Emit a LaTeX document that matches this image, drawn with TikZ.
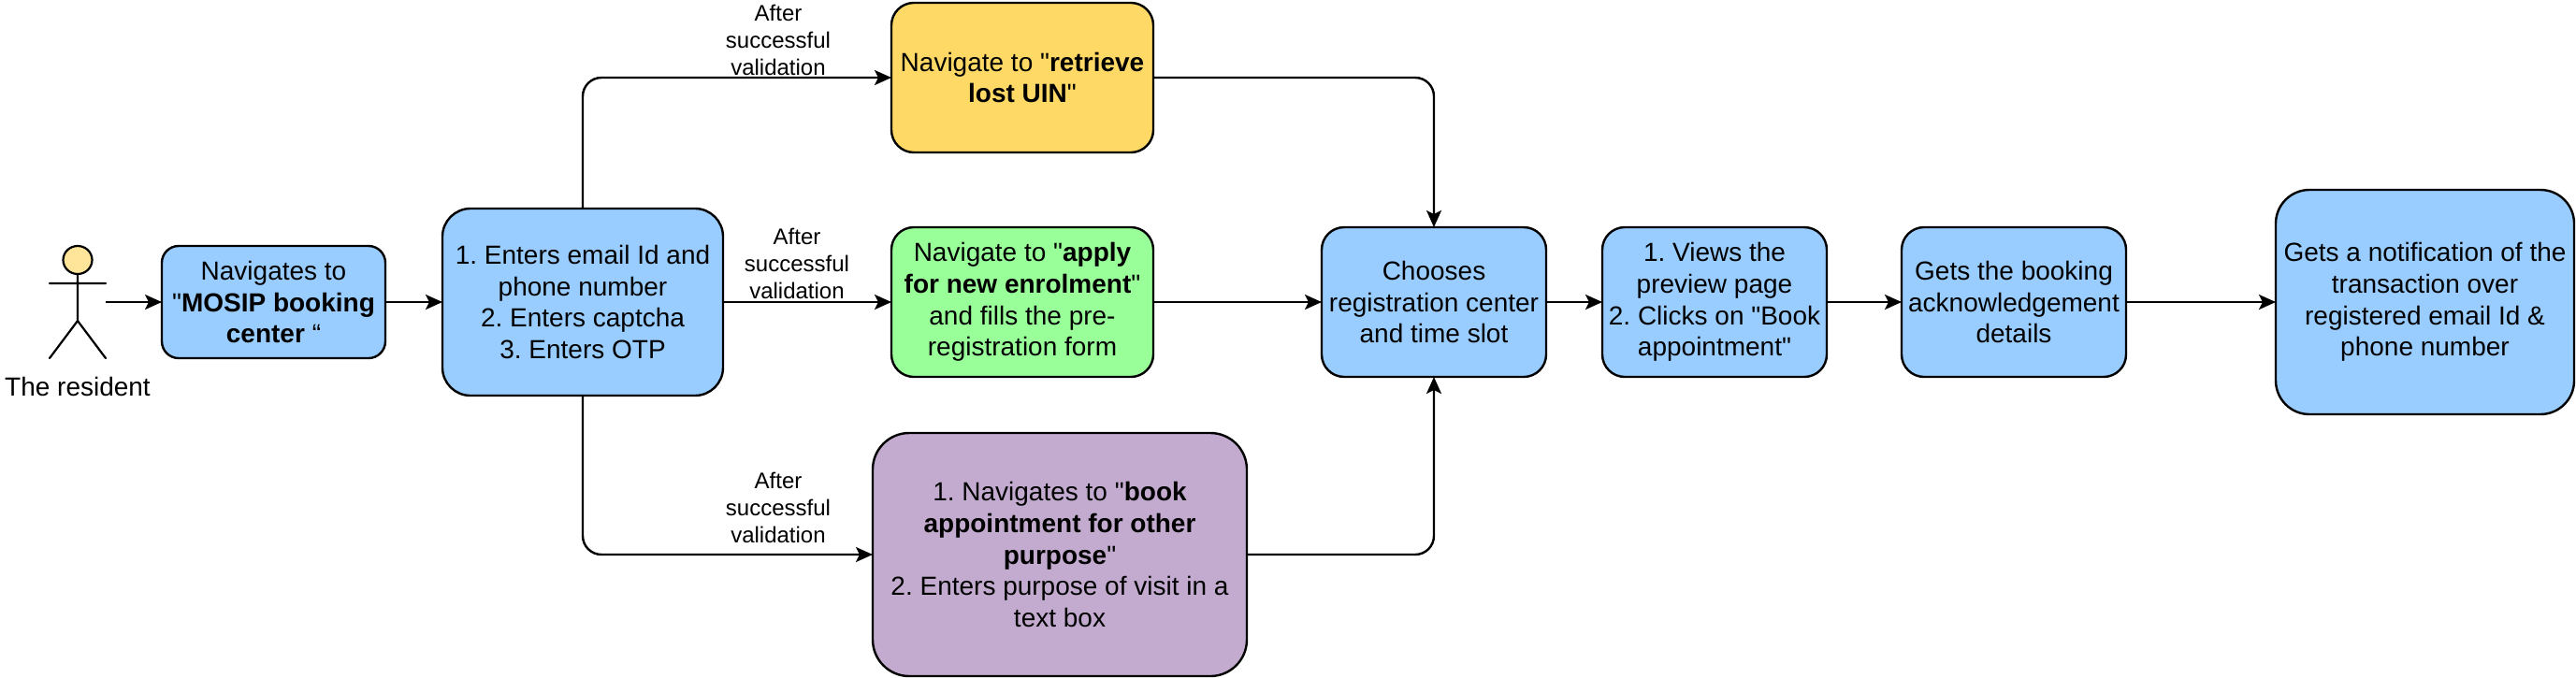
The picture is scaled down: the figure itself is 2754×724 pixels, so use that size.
\documentclass[tikz,border=0pt]{standalone}
\usepackage{fontspec}
\newfontfamily\diagfont{Liberation Sans}
\usetikzlibrary{arrows.meta,shapes.geometric}
\definecolor{bluebox}{HTML}{99CCFF}
\definecolor{yellowbox}{HTML}{FFD966}
\definecolor{greenbox}{HTML}{99FF99}
\definecolor{purplebox}{HTML}{C3ABD0}
\definecolor{headcol}{HTML}{FFE599}
\tikzset{
  every node/.style={inner sep=0pt,outer sep=0pt,align=center},
  boxtext/.style={font=\diagfont\frenchspacing\fontsize{28}{33.6}\selectfont},
  smalltext/.style={font=\diagfont\frenchspacing\fontsize{24}{28.8}\selectfont},
  flowbox/.style n args={4}{boxtext,draw=black,line width=2.4pt,fill=#1,rounded corners=#2,
     minimum width=#3 pt,minimum height=#4 pt},
  conn/.style={draw=black,line width=2.4pt,rounded corners=20pt,
     -{Stealth[length=18pt,width=16pt,inset=4pt]}},
  actorline/.style={draw=black,line width=2.2pt,line cap=round}
}
\begin{document}
\begin{tikzpicture}[x=1pt,y=-1pt]
\useasboundingbox (0,0) rectangle (2754,724);
% actor
\node[draw=black,line width=2.2pt,fill=headcol,ellipse,minimum width=31pt,minimum height=30pt] (head) at (83,278) {};
\coordinate (hip) at (83,343);
\coordinate (armL) at (53,303);
\coordinate (armR) at (113,303);
\coordinate (legL) at (53,383);
\coordinate (legR) at (113,383);
\coordinate (actorout) at (113,323);
\draw[actorline] (head.south) -- (hip) (armL) -- (armR) (legL) -- (hip) -- (legR);
\node[boxtext] (resident) at (83,413) {The resident};
% boxes
\node[flowbox={bluebox}{18pt}{239}{120}] (mosip) at (292.5,323) {Navigates to\\"\textbf{MOSIP booking}\\\textbf{center} “};
\node[flowbox={bluebox}{30pt}{300}{200}] (enter) at (623,323) {1. Enters email Id and\\phone number\\2. Enters captcha\\3. Enters OTP};
\node[flowbox={yellowbox}{24pt}{280}{160}] (lost) at (1093,83) {Navigate to "\textbf{retrieve}\\\textbf{lost UIN}"};
\node[flowbox={greenbox}{24pt}{280}{160}] (apply) at (1093,323) {Navigate to "\textbf{apply}\\\textbf{for new enrolment}"\\and fills the pre-\\registration form};
\node[flowbox={purplebox}{39pt}{400}{260}] (other) at (1133,593) {1. Navigates to "\textbf{book}\\\textbf{appointment for other}\\\textbf{purpose}"\\2. Enters purpose of visit in a\\text box};
\node[flowbox={bluebox}{24pt}{240}{160}] (center) at (1533,323) {Chooses\\registration center\\and time slot};
\node[flowbox={bluebox}{24pt}{240}{160}] (preview) at (1833,323) {1. Views the\\preview page\\2. Clicks on "Book\\appointment"};
\node[flowbox={bluebox}{24pt}{240}{160}] (ack) at (2153,323) {Gets the booking\\acknowledgement\\details};
\node[flowbox={bluebox}{36pt}{319}{240}] (notify) at (2592.5,323) {Gets a notification of the\\transaction over\\registered email Id \&\\phone number};
% connector labels
\node[smalltext] (lab1) at (832,43) {After\\successful\\validation};
\node[smalltext] (lab2) at (852,282) {After\\successful\\validation};
\node[smalltext] (lab3) at (832,543) {After\\successful\\validation};
% connectors
\draw[conn] (actorout) -- (mosip);
\draw[conn] (mosip) -- (enter);
\draw[conn] (enter.north) |- (lost.west);
\draw[conn] (enter) -- (apply);
\draw[conn] (enter.south) |- (other.west);
\draw[conn] (lost.east) -| (center.north);
\draw[conn] (apply) -- (center);
\draw[conn] (other.east) -| (center.south);
\draw[conn] (center) -- (preview);
\draw[conn] (preview) -- (ack);
\draw[conn] (ack) -- (notify);
\end{tikzpicture}
\end{document}
